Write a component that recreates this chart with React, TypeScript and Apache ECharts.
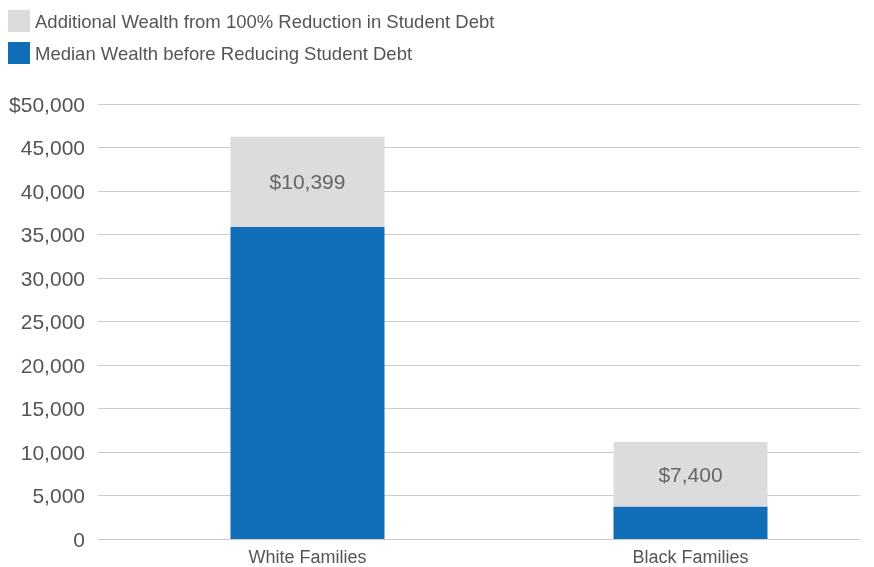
import React, { useEffect, useRef } from "react";
import * as echarts from "echarts";

const categories = ["White Families", "Black Families"];
const medianWealth = [35850, 3750];
const additionalWealth = [10399, 7400];
const yTicks = { min: 0, max: 50000, interval: 5000 };
const seriesNames = [
  "Additional Wealth from 100% Reduction in Student Debt",
  "Median Wealth before Reducing Student Debt",
];

const FONT = "'Liberation Sans', Arial, Helvetica, sans-serif";

export default function App() {
  const ref = useRef<HTMLDivElement>(null);
  useEffect(() => {
    if (!ref.current) return;
    const chart = echarts.init(ref.current, undefined, { renderer: "svg" });
    const fmt = (v: number) => v.toLocaleString("en-US");
    chart.setOption({
      animation: false,
      textStyle: { fontFamily: FONT },
      legend: {
        orient: "vertical",
        left: 3,
        top: 5,
        itemWidth: 22,
        itemHeight: 22,
        itemGap: 10,
        icon: "rect",
        data: seriesNames,
        textStyle: { fontSize: 18.5, color: "#555", fontFamily: FONT },
      },
      grid: [
        { left: 98, right: 14, top: 104, height: 435, outerBoundsMode: "none", containLabel: false },
        { left: 116, width: 766, top: 104, height: 435, outerBoundsMode: "none", containLabel: false },
      ],
      xAxis: [
        { gridIndex: 0, type: "category", data: ["x"], show: false },
        {
          gridIndex: 1,
          type: "category",
          data: categories,
          axisLine: { show: false },
          axisTick: { show: false },
          axisLabel: { fontSize: 18, color: "#555", margin: 9, fontFamily: FONT },
        },
      ],
      yAxis: [
        {
          gridIndex: 0,
          type: "value",
          min: yTicks.min,
          max: yTicks.max,
          interval: yTicks.interval,
          axisLine: { show: false },
          axisTick: { show: false },
          splitLine: { lineStyle: { color: "#cccccc", width: 1 } },
          axisLabel: {
            fontSize: 21,
            color: "#555",
            margin: 13,
            fontFamily: FONT,
            formatter: (v: number) => (v === yTicks.max ? "$" + fmt(v) : fmt(v)),
          },
        },
        {
          gridIndex: 1,
          type: "value",
          min: yTicks.min,
          max: yTicks.max,
          interval: yTicks.interval,
          show: false,
          splitLine: { show: false },
        },
      ],
      series: [
        {
          name: seriesNames[1],
          type: "bar",
          stack: "total",
          xAxisIndex: 1,
          yAxisIndex: 1,
          barWidth: 154,
          data: medianWealth,
          itemStyle: { color: "#106db7" },
        },
        {
          name: seriesNames[0],
          type: "bar",
          stack: "total",
          xAxisIndex: 1,
          yAxisIndex: 1,
          barWidth: 154,
          data: additionalWealth,
          itemStyle: { color: "#dcdcde" },
          label: {
            show: true,
            position: "inside",
            fontSize: 21,
            color: "#666",
            fontFamily: FONT,
            formatter: (p: any) => "$" + fmt(p.value),
          },
        },
      ],
    });
    return () => chart.dispose();
  }, []);
  return (
    <div
      ref={ref}
      style={{ position: "fixed", left: 0, top: 0, width: 874, height: 567 }}
    />
  );
}
